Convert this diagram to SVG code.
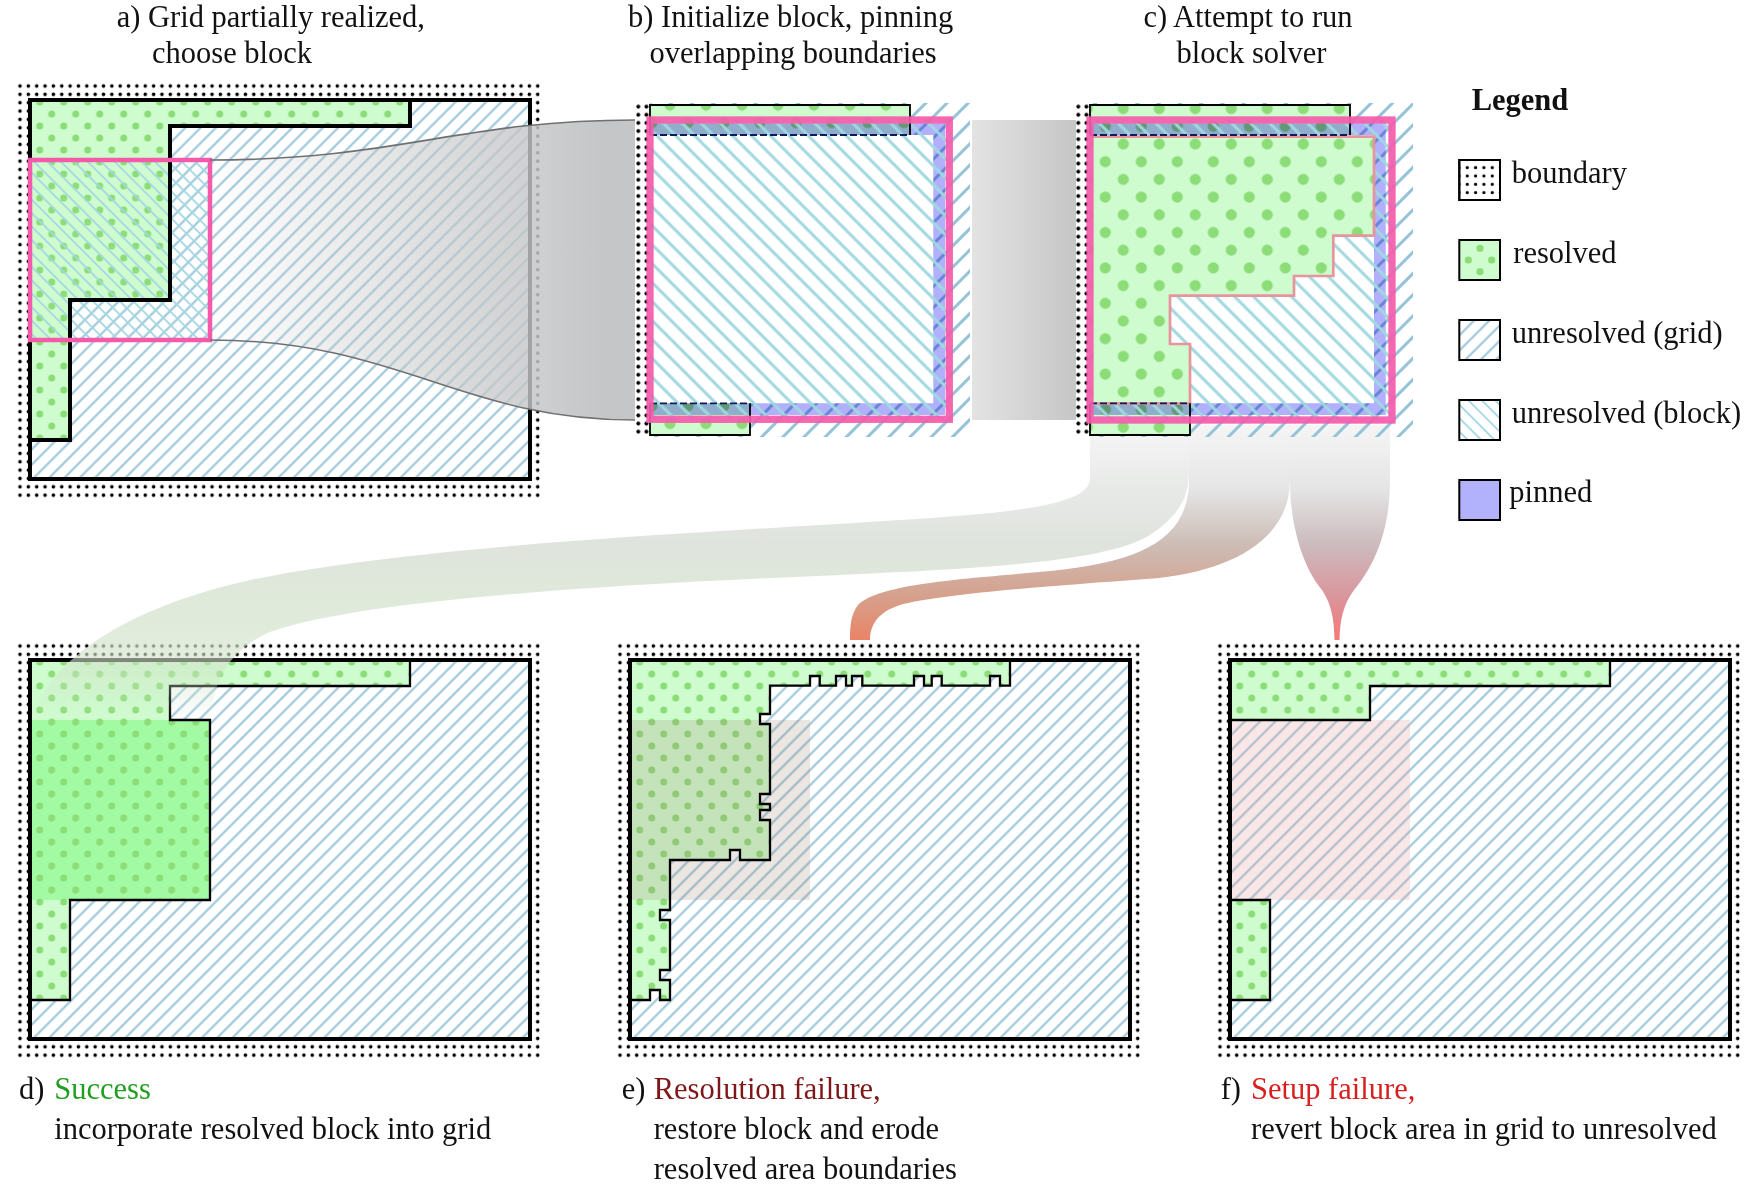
<svg xmlns="http://www.w3.org/2000/svg" width="1760" height="1200" viewBox="0 0 1760 1200">
<style>
text{font-family:"Liberation Serif","DejaVu Serif",serif;font-size:30.5px;fill:#111}
.bdr{fill:none;stroke:#000;stroke-width:4}
.ol{fill:none;stroke:#000;stroke-width:2.3}
.gr{fill:#cffccf}
.pin{fill:#b0b0fc;mix-blend-mode:multiply}
.sw{stroke:#000;stroke-width:2}
</style>
<defs>
<pattern id="bd" patternUnits="userSpaceOnUse" x="15.825" y="81.825" width="8.35" height="8.35"><circle cx="4.175" cy="4.175" r="1.75" fill="#000"/></pattern>
<pattern id="bdB" patternUnits="userSpaceOnUse" x="634.24" y="102.64" width="8.125" height="8.125"><circle cx="4.06" cy="4.06" r="1.95" fill="#000"/></pattern>
<pattern id="bdC" patternUnits="userSpaceOnUse" x="1074.24" y="102.64" width="8.125" height="8.125"><circle cx="4.06" cy="4.06" r="1.95" fill="#000"/></pattern>
<pattern id="bdL" patternUnits="userSpaceOnUse" x="1463.1" y="163.5" width="8.33" height="8.33"><circle cx="4.17" cy="4.17" r="1.6" fill="#000"/></pattern>
<pattern id="hg" patternUnits="userSpaceOnUse" width="10.8" height="10.8" patternTransform="rotate(45)"><line x1="5.4" y1="-1" x2="5.4" y2="11.8" stroke="#95c3d7" stroke-width="2"/></pattern>
<pattern id="hb" patternUnits="userSpaceOnUse" width="9.5" height="9.5" patternTransform="rotate(-45)"><line x1="4.75" y1="-1" x2="4.75" y2="10.5" stroke="#a3d8e2" stroke-width="1.8"/></pattern>
<pattern id="hgL" patternUnits="userSpaceOnUse" width="15" height="15" patternTransform="rotate(45)"><line x1="7.5" y1="-1" x2="7.5" y2="16" stroke="#95c3d7" stroke-width="3"/></pattern>
<pattern id="hbL" patternUnits="userSpaceOnUse" width="13.4" height="13.4" patternTransform="rotate(-45)"><line x1="6.7" y1="-1" x2="6.7" y2="14.4" stroke="#a0d8e0" stroke-width="3"/></pattern>
<pattern id="rd" patternUnits="userSpaceOnUse" x="51.7" y="114" width="24" height="24"><g fill="#8cdc78"><circle cx="0" cy="0" r="3.5"/><circle cx="24" cy="0" r="3.5"/><circle cx="0" cy="24" r="3.5"/><circle cx="24" cy="24" r="3.5"/><circle cx="12" cy="12" r="3.5"/></g></pattern>
<pattern id="rdB" patternUnits="userSpaceOnUse" x="670" y="105" width="36" height="35.4"><g fill="#8cdc78"><circle cx="0" cy="0" r="5.6"/><circle cx="36" cy="0" r="5.6"/><circle cx="0" cy="35.4" r="5.6"/><circle cx="36" cy="35.4" r="5.6"/><circle cx="18" cy="17.7" r="5.6"/></g></pattern>
<pattern id="rdC" patternUnits="userSpaceOnUse" x="1123.3" y="144" width="36" height="35.4"><g fill="#8cdc78"><circle cx="0" cy="0" r="5.6"/><circle cx="36" cy="0" r="5.6"/><circle cx="0" cy="35.4" r="5.6"/><circle cx="36" cy="35.4" r="5.6"/><circle cx="18" cy="17.7" r="5.6"/></g></pattern>
<linearGradient id="gFun" gradientUnits="userSpaceOnUse" x1="210" y1="0" x2="600" y2="0"><stop offset="0" stop-color="#c5c6c7" stop-opacity="0"/><stop offset="1" stop-color="#c5c6c7" stop-opacity="1"/></linearGradient>
<linearGradient id="gBC" gradientUnits="userSpaceOnUse" x1="972" y1="0" x2="1076" y2="0"><stop offset="0" stop-color="#e3e3e3"/><stop offset="1" stop-color="#c6c6c6"/></linearGradient>
<linearGradient id="gD" gradientUnits="userSpaceOnUse" x1="0" y1="425" x2="0" y2="720"><stop offset="0" stop-color="#f0f1f0" stop-opacity="0.7"/><stop offset="0.2" stop-color="#e6e8e6" stop-opacity="0.9"/><stop offset="0.4" stop-color="#dfe3dd"/><stop offset="0.6" stop-color="#dbe7d5" stop-opacity="0.9"/><stop offset="0.8" stop-color="#d2e2ca" stop-opacity="0.6"/><stop offset="1" stop-color="#cfe3c6" stop-opacity="0"/></linearGradient>
<linearGradient id="gE" gradientUnits="userSpaceOnUse" x1="0" y1="425" x2="0" y2="640"><stop offset="0" stop-color="#f0f0f0" stop-opacity="0.7"/><stop offset="0.3" stop-color="#e5e5e5"/><stop offset="0.55" stop-color="#cdbdb6"/><stop offset="0.8" stop-color="#d6a08c"/><stop offset="1" stop-color="#ea8466"/></linearGradient>
<linearGradient id="gF" gradientUnits="userSpaceOnUse" x1="0" y1="425" x2="0" y2="640"><stop offset="0" stop-color="#f0f0f0" stop-opacity="0.7"/><stop offset="0.3" stop-color="#e4e4e4"/><stop offset="0.55" stop-color="#ccbcbe"/><stop offset="0.8" stop-color="#d9959c"/><stop offset="1" stop-color="#f47878"/></linearGradient>
</defs>
<rect width="1760" height="1200" fill="#fff"/>

<g id="panel-a">
<path d="M15.8,81.8H542V499.5H15.8Z M30,100H530V479H30Z" fill="url(#bd)" fill-rule="evenodd"/>
<rect x="30" y="100" width="500" height="379" fill="url(#hg)"/>
<path class="gr" d="M30,100H410V126H170V300H70V440H30Z"/>
<path d="M30,100H410V126H170V300H70V440H30Z" fill="url(#rd)"/>
<rect x="30" y="160" width="180" height="180" fill="url(#hb)"/>
<path d="M410,100V126H170V300H70V440H30" fill="none" stroke="#000" stroke-width="4"/>
<rect class="bdr" x="30" y="100" width="500" height="379"/>
<rect x="30" y="160" width="180" height="180" fill="none" stroke="#f55aaa" stroke-width="4.5"/>
</g>

<g id="panel-d" transform="translate(0,560)">
<path d="M15.8,81.8H542V499.5H15.8Z M30,100H530V479H30Z" fill="url(#bd)" fill-rule="evenodd"/>
<rect x="30" y="100" width="500" height="379" fill="url(#hg)"/>
<path class="gr" d="M30,100H410V126H170V300H70V440H30Z"/>
<rect x="30" y="160" width="180" height="180" fill="#a2faa2"/>
<path d="M30,100H410V126H170V160H210V340H70V440H30Z" fill="url(#rd)"/>
<path class="ol" d="M410,100V126H170V160H210V340H70V440H30"/>
<rect class="bdr" x="30" y="100" width="500" height="379"/>
</g>

<g id="panel-e" transform="translate(600,560)">
<path d="M15.8,81.8H542V499.5H15.8Z M30,100H530V479H30Z" fill="url(#bd)" fill-rule="evenodd"/>
<rect x="30" y="100" width="500" height="379" fill="url(#hg)"/>
<path class="gr" d="M30,100H410V125.7H400V116H390V125.7H341.7V116H331.7V125.7H324V116H314V125.7H262.3V116H252V125.7H246V116H236V125.7H219.7V116H210V125.7H170V154H160V164H170V234H160V244H170V250H160V260H170V300H140V290H130V300H70V350H60V360H70V410H60V420H70V440H60V430H50V440H30Z"/>
<path fill="url(#rd)" d="M30,100H410V125.7H400V116H390V125.7H341.7V116H331.7V125.7H324V116H314V125.7H262.3V116H252V125.7H246V116H236V125.7H219.7V116H210V125.7H170V154H160V164H170V234H160V244H170V250H160V260H170V300H140V290H130V300H70V350H60V360H70V410H60V420H70V440H60V430H50V440H30Z"/>
<rect x="30" y="160" width="180" height="180" fill="#a08070" opacity="0.2"/>
<path class="ol" d="M410,100V125.7H400V116H390V125.7H341.7V116H331.7V125.7H324V116H314V125.7H262.3V116H252V125.7H246V116H236V125.7H219.7V116H210V125.7H170V154H160V164H170V234H160V244H170V250H160V260H170V300H140V290H130V300H70V350H60V360H70V410H60V420H70V440H60V430H50V440H30"/>
<rect class="bdr" x="30" y="100" width="500" height="379"/>
</g>

<g id="panel-f" transform="translate(1200,560)">
<path d="M15.8,81.8H542V499.5H15.8Z M30,100H530V479H30Z" fill="url(#bd)" fill-rule="evenodd"/>
<rect x="30" y="100" width="500" height="379" fill="url(#hg)"/>
<path class="gr" d="M30,100H410V126H170V160H30Z M30,340H70V440H30Z"/>
<path fill="url(#rd)" d="M30,100H410V126H170V160H30Z M30,340H70V440H30Z"/>
<rect x="30" y="160" width="180" height="180" fill="#e8a0a0" opacity="0.25"/>
<path class="ol" d="M410,100V126H170V160H30 M30,340H70V440H30"/>
<rect class="bdr" x="30" y="100" width="500" height="379"/>
</g>

<g id="connectors">
<path d="M210,160C400,160 460,120 635,120L635,420C460,420 400,340 210,340Z" fill="url(#gFun)"/>
<path d="M210,160C400,160 460,120 635,120M210,340C400,340 460,420 635,420" fill="none" stroke="#707070" stroke-width="1.6"/>
<rect x="972" y="120" width="104" height="300" fill="url(#gBC)"/>
<path d="M1090,425L1090,478C1090,505 1020,512 900,520C700,533 420,545 250,580C140,605 55,650 30,720L212,720C212,680 230,650 270,632C360,600 600,585 840,575C1000,568 1110,560 1150,535C1185,512 1189,490 1189,470L1189,425Z" fill="url(#gD)"/>
<path d="M1189,425L1189,480C1189,540 1140,562 1050,571C980,578 880,582 858,605C851,614 850,625 850,640L870,640C870,625 878,612 900,605C940,594 1050,586 1146,579C1230,573 1290,540 1290,480L1290,425Z" fill="url(#gE)"/>
<path d="M1290,425L1290,480C1290,530 1305,570 1322,590C1332,605 1334,620 1334.5,640L1339.5,640C1340,620 1343,605 1354,590C1375,565 1390,530 1390,480L1390,425Z" fill="url(#gF)"/>
</g>

<g id="panel-b">
<rect x="634.24" y="102.64" width="16.25" height="333.2" fill="url(#bdB)"/>
<rect x="650" y="103" width="320" height="334" fill="url(#hgL)"/>
<rect class="gr" x="650" y="105" width="260" height="30"/>
<rect class="gr" x="650" y="403.3" width="100" height="31.7"/>
<rect fill="url(#rdB)" x="650" y="105" width="260" height="30"/>
<rect fill="url(#rdB)" x="650" y="403.3" width="100" height="31.7"/>
<rect x="650" y="135" width="283.3" height="268.3" fill="#fff"/>
<path class="pin" d="M650,123.3H945V415H650V403.3H933.3V135H650Z"/>
<rect x="650" y="120" width="299.3" height="299.3" fill="url(#hbL)"/>
<path d="M650,135V105H910V135M650,403.3V435H750V403.3" fill="none" stroke="#000" stroke-width="1.8"/>
<path d="M650,135H910M650,403.3H750" fill="none" stroke="#101a5a" stroke-width="1.8" stroke-dasharray="7,3"/>
<rect x="650" y="120" width="299.3" height="299.3" fill="none" stroke="#f55aaa" stroke-width="7.3" opacity="0.92"/>
</g>

<g id="panel-c">
<rect x="1074.24" y="102.64" width="16.25" height="333.2" fill="url(#bdC)"/>
<rect x="1090" y="103" width="323" height="334" fill="url(#hgL)"/>
<rect class="gr" x="1090" y="105" width="260" height="30"/>
<rect class="gr" x="1090" y="403.3" width="100" height="31.7"/>
<rect fill="url(#rdC)" x="1090" y="105" width="260" height="30"/>
<rect fill="url(#rdC)" x="1090" y="403.3" width="100" height="31.7"/>
<rect x="1090" y="135" width="284" height="268.3" fill="#fff"/>
<path class="pin" d="M1090,123.3H1385.7V415H1090V403.3H1374V135H1090Z"/>
<rect x="1090" y="120" width="302" height="300" fill="url(#hbL)"/>
<path class="gr" d="M1090,136.7H1374V235.7H1333.3V276H1294V295.7H1170V344H1190V403.3H1090Z"/>
<path fill="url(#rdC)" d="M1090,136.7H1374V235.7H1333.3V276H1294V295.7H1170V344H1190V403.3H1090Z"/>
<path d="M1090,136.7H1374V235.7H1333.3V276H1294V295.7H1170V344H1190V403.3H1090" fill="none" stroke="#e8949c" stroke-width="2.7"/>
<path d="M1090,135V105H1350V135M1090,403.3V435H1190V403.3" fill="none" stroke="#000" stroke-width="1.8"/>
<path d="M1090,135H1350M1090,403.3H1190" fill="none" stroke="#101a5a" stroke-width="1.8" stroke-dasharray="7,3"/>
<rect x="1090" y="120" width="302" height="300" fill="none" stroke="#f55aaa" stroke-width="7.3" opacity="0.92"/>
</g>

<g id="legend">
<text x="1471.7" y="110" font-weight="bold">Legend</text>
<rect class="sw" x="1459.3" y="160" width="40.7" height="40" fill="#fff"/>
<rect class="sw" x="1459.3" y="160" width="40.7" height="40" fill="url(#bdL)"/>
<text x="1511.7" y="182.7">boundary</text>
<rect class="sw" x="1459.3" y="240" width="40.7" height="40" fill="#cffccf"/>
<g fill="#8cdc78"><circle cx="1480" cy="248.3" r="3.6"/><circle cx="1468.3" cy="260" r="3.6"/><circle cx="1491.7" cy="260" r="3.6"/><circle cx="1480" cy="271.7" r="3.6"/></g>
<text x="1513.3" y="262.7">resolved</text>
<rect class="sw" x="1459.3" y="320" width="40.7" height="40" fill="url(#hg)"/>
<text x="1511.7" y="342.7">unresolved (grid)</text>
<rect class="sw" x="1459.3" y="400" width="40.7" height="40" fill="url(#hb)"/>
<text x="1511.7" y="422.7">unresolved (block)</text>
<rect class="sw" x="1459.3" y="480" width="40.7" height="40" fill="#b2b2fc"/>
<text x="1509.3" y="501.7">pinned</text>
</g>

<g id="captions">
<text x="116.7" y="26.5">a) Grid partially realized,</text>
<text x="152" y="62.5">choose block</text>
<text x="628" y="26.5">b) Initialize block, pinning</text>
<text x="649.5" y="62.5">overlapping boundaries</text>
<text x="1143.4" y="26.5">c) Attempt to run</text>
<text x="1176.5" y="62.5">block solver</text>
<text x="19.1" y="1099">d) <tspan x="54.2" fill="#1f9e1f">Success</tspan></text>
<text x="54.2" y="1139">incorporate resolved block into grid</text>
<text x="621.8" y="1099">e) <tspan x="653.7" fill="#7e1717">Resolution failure,</tspan></text>
<text x="653.7" y="1139">restore block and erode</text>
<text x="653.7" y="1178.5">resolved area boundaries</text>
<text x="1220.7" y="1099">f) <tspan x="1251" fill="#d71f1f">Setup failure,</tspan></text>
<text x="1251" y="1139">revert block area in grid to unresolved</text>
</g>
</svg>
